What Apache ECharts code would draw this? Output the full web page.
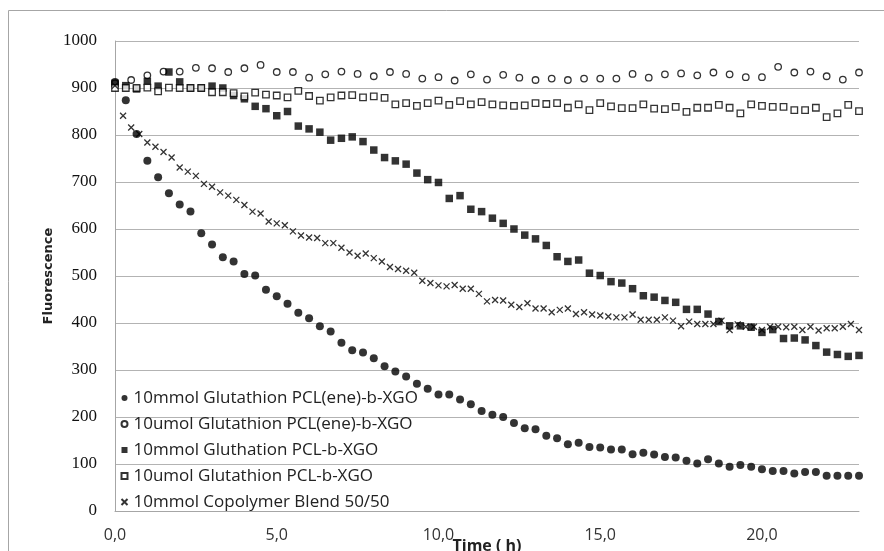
<!DOCTYPE html>
<html>
<head>
<meta charset="utf-8">
<script src="https://cdn.jsdelivr.net/npm/echarts@6/dist/echarts.min.js"></script>
<style>
html,body{margin:0;padding:0;background:#fff;}
#chart{width:884px;height:551px;}
</style>
</head>
<body>
<div id="chart"></div>
<script>
// ---- data ----
var seriesNames = [
  "10mmol Glutathion PCL(ene)-b-XGO",
  "10umol Glutathion PCL(ene)-b-XGO",
  "10mmol Gluthation PCL-b-XGO",
  "10umol Glutathion PCL-b-XGO",
  "10mmol Copolymer Blend 50/50"
];
// sampling interval (hours) of each series
var stepA = 1/3, stepB = 0.5, stepC = 1/3, stepD = 1/3, stepE = 0.25;

var valsA = [913,874,802,745,710,676,652,637,591,567,
             540,531,504,501,471,457,441,422,410,393,
             382,358,342,337,325,308,297,286,271,260,
             248,248,237,227,213,205,200,187,176,174,
             160,155,142,145,136,135,131,131,121,124,
             120,115,114,107,101,110,101,94,98,94,
             89,85,85,80,83,83,75,75,75,75];
var valsB = [910,917,927,935,935,943,942,934,942,949,
             934,934,922,929,935,930,925,934,930,920,
             923,916,929,918,928,922,917,920,917,920,
             920,920,930,922,929,931,927,933,929,923,
             923,945,933,935,925,918,933];
var valsC = [910,905,898,914,904,934,913,900,900,904,
             900,884,877,861,856,841,850,819,813,806,
             789,793,796,786,768,752,745,738,719,705,
             699,665,671,642,637,623,612,600,587,579,
             565,541,531,534,506,501,488,485,473,458,
             455,448,444,429,429,419,403,394,394,391,
             380,386,367,368,364,352,338,333,329,331];
var valsD = [900,900,900,901,893,901,900,900,900,891,
             891,889,882,890,886,884,880,894,883,873,
             880,884,885,880,882,879,865,868,862,868,
             873,864,872,865,870,865,863,862,863,868,
             866,868,858,865,853,868,861,857,857,865,
             856,855,860,849,858,858,864,858,846,865,
             862,860,860,853,853,858,838,846,864,851];
var valsE = [905,841,816,802,784,775,764,752,731,722,
             713,696,690,678,671,662,651,637,633,616,
             612,608,595,586,582,581,570,570,560,550,
             543,548,538,531,519,515,511,507,490,485,
             480,478,481,473,473,462,446,449,448,439,
             434,442,431,431,423,428,431,419,423,418,
             416,414,412,412,418,407,407,407,412,405,
             393,403,398,398,398,405,385,397,392,392,
             385,392,392,391,392,385,392,384,389,389,
             392,398,385];

var xMin = 0, xMax = 23, xInterval = 5;
var yMin = 0, yMax = 1000, yInterval = 100;

function pairs(vals, step){
  return vals.map(function(v,i){ return [Math.round(i*step*10000)/10000, v]; });
}

var xPath = 'path://M0,0L10,10M10,0L0,10';
var sans = "'Open Sans', sans-serif";
var serif = "'Liberation Serif', 'DejaVu Serif', serif";

var chart = echarts.init(document.getElementById('chart'), null, {renderer:'canvas'});
chart.setOption({
  animation:false,
  backgroundColor:'#ffffff',
  graphic:[{type:'rect', shape:{x:8.5,y:10.5,width:900,height:600},
            style:{fill:null, stroke:'#a6a6a6', lineWidth:1}, silent:true}],
  grid:{left:115, right:25, top:41, bottom:40, containLabel:false, outerBoundsMode:'none'},
  xAxis:{
    type:'value', min:xMin, max:xMax, interval:xInterval,
    name:'Time ( h)', nameLocation:'middle', nameGap:27, nameMoveOverlap:false,
    nameTextStyle:{fontFamily:sans, fontWeight:'bold', fontSize:16, color:'#222', verticalAlign:'top'},
    axisLine:{show:true, lineStyle:{color:'#a6a6a6', width:1}},
    axisTick:{show:false},
    splitLine:{show:false},
    axisLabel:{showMaxLabel:false, margin:16, fontFamily:sans, fontSize:16, color:'#333',
      formatter:function(v){ return v.toFixed(1).replace('.',','); }}
  },
  yAxis:{
    type:'value', min:yMin, max:yMax, interval:yInterval,
    name:'Fluorescence', nameLocation:'middle', nameGap:60, nameRotate:90, nameMoveOverlap:false,
    nameTextStyle:{fontFamily:"'DejaVu Sans', sans-serif", fontWeight:'bold', fontSize:13, color:'#222'},
    axisLine:{show:true, lineStyle:{color:'#a6a6a6', width:1}},
    axisTick:{show:false},
    splitLine:{show:true, lineStyle:{color:'#b3b3b3', width:1}},
    axisLabel:{margin:18, color:'#111',
      textStyle:{fontFamily:serif, fontSize:17},
      fontFamily:serif, fontSize:17,
      formatter:function(v){ return String(v); }}
  },
  legend:{
    orient:'vertical', left:119, top:389, padding:0, itemWidth:6, itemHeight:6, itemGap:8,
    textStyle:{fontFamily:sans, fontSize:17, color:'#222', lineHeight:18, padding:[0,0,0,1]},
    data:seriesNames
  },
  series:[
    {name:seriesNames[0], type:'scatter', symbol:'circle', symbolSize:8,
     itemStyle:{color:'#000'}, data:pairs(valsA, stepA)},
    {name:seriesNames[1], type:'scatter', symbol:'circle', symbolSize:6.5,
     itemStyle:{color:'#fff', borderColor:'#000', borderWidth:1.3}, data:pairs(valsB, stepB)},
    {name:seriesNames[2], type:'scatter', symbol:'rect', symbolSize:7.5,
     itemStyle:{color:'#000'}, data:pairs(valsC, stepC)},
    {name:seriesNames[3], type:'scatter', symbol:'rect', symbolSize:6.5,
     itemStyle:{color:'#fff', borderColor:'#000', borderWidth:1.3}, data:pairs(valsD, stepD)},
    {name:seriesNames[4], type:'scatter', symbol:xPath, symbolSize:6,
     itemStyle:{color:'none', borderColor:'#000', borderWidth:1.3}, data:pairs(valsE, stepE)}
  ]
});
</script>
</body>
</html>
